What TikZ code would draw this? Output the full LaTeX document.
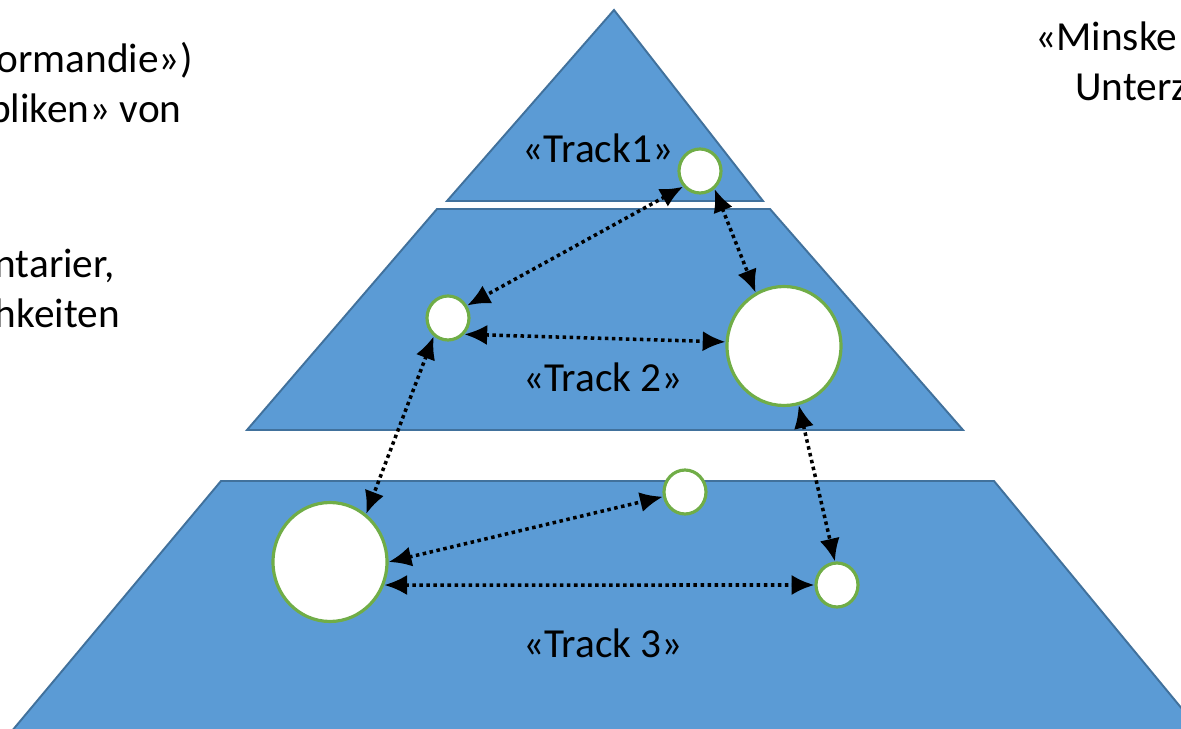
\documentclass[tikz,border=0pt]{standalone}
\usepackage{fontspec}
\setmainfont{Carlito}
\usepackage{tikz}
\usetikzlibrary{shapes}
\usetikzlibrary{arrows.meta}
\definecolor{layerblue}{HTML}{5B9BD5}
\definecolor{layerline}{HTML}{41719C}
\definecolor{ringgreen}{HTML}{70AD47}

\begin{document}
\begin{tikzpicture}[x=0.02cm,y=-0.02cm]
\tikzset{layer/.style = {fill=layerblue,draw=layerline,line width=1.1pt}}
\tikzset{vertex/.style = {shape=ellipse,draw=ringgreen,fill=white,line width=1.8pt,inner sep=0pt}}
\tikzset{small/.style = {vertex,minimum width=0.84cm,minimum height=0.88cm}}
\tikzset{big/.style = {vertex,minimum width=2.28cm,minimum height=2.38cm}}
\tikzset{txt/.style = {inner sep=0pt,font=\fontsize{23.5}{28}\selectfont}}
\tikzset{edge/.style = {{Latex[length=13pt,width=11.5pt]}-{Latex[length=13pt,width=11.5pt]},line width=2pt,dash pattern=on 2pt off 2pt}}
\useasboundingbox (0,0) rectangle (1181,729);
\clip (0,0) rectangle (1181,729);

\draw[layer] (614,10) -- (763,201) -- (447,201) -- cycle;
\draw[layer] (437,209) -- (770,209) -- (963,430) -- (247,430) -- cycle;
\draw[layer] (221,481) -- (994,481) -- (1216,750) -- (-4,750) -- cycle;

\node[txt, anchor=base] (lab1) at (598,163) {«Track1»};
\node[txt, anchor=base] (lab2) at (603,392) {«Track 2»};
\node[txt, anchor=base] (lab3) at (603,658) {«Track 3»};
\node[txt, anchor=base east] (left1) at (193,73) {ormandie»)};
\node[txt, anchor=base east] (left2) at (182,123) {bliken» von};
\node[txt, anchor=base east] (left3) at (115,278) {ntarier,};
\node[txt, anchor=base east] (left4) at (120,328) {hkeiten};
\node[txt, anchor=base west] (right1) at (1035,51) {«Minske};
\node[txt, anchor=base west] (right2) at (1075,101) {Unterz};

\node[small] (t1) at (700,171) {};
\node[small] (t2s) at (448,318) {};
\node[big] (t2b) at (784,346) {};
\node[big] (t3b) at (330,562) {};
\node[small] (t3s) at (685,492) {};
\node[small] (t3r) at (837,585) {};

\draw[edge] (t1.-137) to (t2s.33);
\draw[edge] (t1.-51) to (t2b.118);
\draw[edge] (t2s.-45) to (t2b.176);
\draw[edge] (t2s.-128) to (t3b.53);
\draw[edge] (t2b.-76) to (t3r.95);
\draw[edge] (t3b.0) to (t3s.-168);
\draw[edge] (t3b.-23) to (t3r.180);
\end{tikzpicture}
\end{document}
